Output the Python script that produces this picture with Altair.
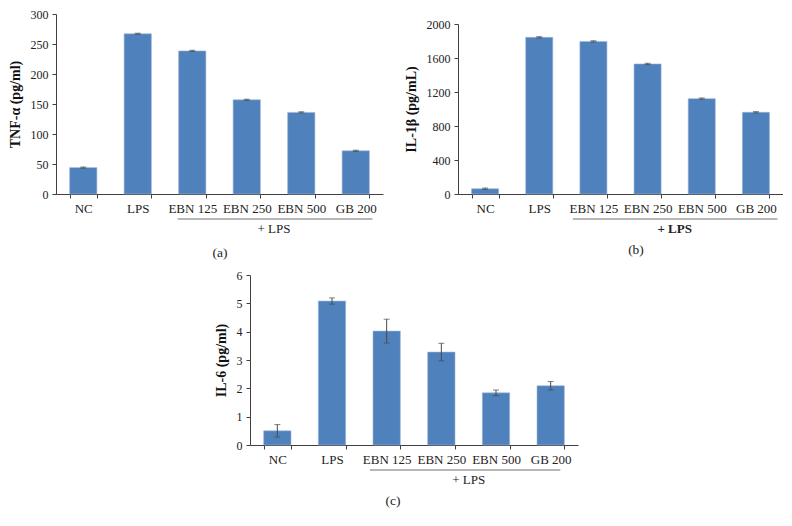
import altair as alt
import pandas as pd

categories = ["NC", "LPS", "EBN 125", "EBN 250", "EBN 500", "GB 200"]

tnf_values = [44, 267, 238.5, 157, 136, 72]
tnf_errors = [1, 1, 1, 1, 1, 1]
tnf_ticks = [0, 50, 100, 150, 200, 250, 300]

il1b_values = [62, 1843, 1795, 1530, 1122, 961]
il1b_errors = [8, 8, 8, 8, 8, 8]
il1b_ticks = [0, 400, 800, 1200, 1600, 2000]

il6_values = [0.50, 5.08, 4.02, 3.28, 1.84, 2.09]
il6_errors = [0.22, 0.11, 0.42, 0.31, 0.10, 0.15]
il6_ticks = [0, 1, 2, 3, 4, 5, 6]

FONT = "Liberation Serif"
BAR = "#4F81BD"
AXC = "#404040"


def panel(values, errors, ytitle, yticks, width, height, top_gap, caption,
          cap_x, cap_y, lps_bold, rule_off):
    df = pd.DataFrame({"cat": categories, "val": values, "err": errors})
    df["lo"] = df["val"] - df["err"]
    df["hi"] = df["val"] + df["err"]
    xscale = alt.Scale(domain=categories, paddingInner=0.5, paddingOuter=0.25)
    yscale = alt.Scale(domain=[yticks[0], yticks[-1]], range=[height, top_gap], nice=False)
    xaxis = alt.Axis(title=None, labelAngle=0, tickBand="extent", tickSize=4,
                     labelPadding=4, labelFont=FONT, labelFontSize=13,
                     labelColor="#222", domainColor=AXC, tickColor=AXC)
    yaxis = alt.Axis(title=ytitle, values=yticks, format="d", grid=False, tickSize=4,
                     labelPadding=4, labelFont=FONT, labelFontSize=12,
                     labelColor="#222", domainColor=AXC, tickColor=AXC,
                     titleFont=FONT, titleFontSize=14, titleFontWeight="bold",
                     titleColor="#111", titlePadding=8)
    base = alt.Chart(df)
    bars = base.mark_bar(color=BAR, stroke="#9db6d8", strokeWidth=0.6).encode(
        x=alt.X("cat:N", scale=xscale, sort=categories, axis=xaxis),
        y=alt.Y("val:Q", scale=yscale, axis=yaxis),
    )
    err_rule = base.mark_rule(color="#4a4a4a", strokeWidth=1).encode(
        x=alt.X("cat:N", axis=xaxis, sort=categories),
        y=alt.Y("lo:Q", axis=yaxis),
        y2="hi:Q",
    )
    cap_lo = base.mark_tick(color="#4a4a4a", size=6, thickness=1).encode(
        x=alt.X("cat:N", axis=xaxis, sort=categories), y=alt.Y("lo:Q", axis=yaxis))
    cap_hi = base.mark_tick(color="#4a4a4a", size=6, thickness=1).encode(
        x=alt.X("cat:N", axis=xaxis, sort=categories), y=alt.Y("hi:Q", axis=yaxis))

    ann = pd.DataFrame({"s": ["EBN 125"], "e": ["GB 200"], "m": ["EBN 250"],
                        "lab": ["+ LPS"], "cap": [caption]})
    achart = alt.Chart(ann)
    step = width / 6.0
    line = achart.mark_rule(color="#6e6e6e", strokeWidth=1,
                            xOffset=rule_off[0], x2Offset=rule_off[1]).encode(
        x=alt.X("s:N", bandPosition=0, axis=xaxis),
        x2=alt.X2("e", bandPosition=1),
        y=alt.value(height + 25),
    )
    lps = achart.mark_text(font=FONT, fontSize=13, color="#222",
                           fontWeight="bold" if lps_bold else "normal",
                           baseline="middle", xOffset=step / 4).encode(
        x=alt.X("m:N", bandPosition=1, axis=xaxis),
        y=alt.value(height + 35),
        text="lab:N",
    )
    cap = achart.mark_text(font=FONT, fontSize=13.5, color="#222", baseline="middle").encode(
        x=alt.value(cap_x), y=alt.value(cap_y), text="cap:N")
    guard = achart.mark_rule(opacity=0).encode(
        x=alt.value(0), x2=alt.value(1), y=alt.value(-10))
    return alt.layer(bars, err_rule, cap_lo, cap_hi, line, lps, cap, guard).properties(
        width=width, height=height)


pa = panel(tnf_values, tnf_errors, "TNF-α (pg/ml)", tnf_ticks, 327, 180, 0,
           "(a)", 164, 180 + 59, False, (-1, 3))
pb = panel(il1b_values, il1b_errors, "IL-1β (pg/mL)", il1b_ticks, 325, 180, 10,
           "(b)", 178, 180 + 56, True, (-7, 8))
pc = panel(il6_values, il6_errors, "IL-6 (pg/ml)", il6_ticks, 328, 170, 0,
           "(c)", 143, 170 + 56, False, (-3, -4))

spacer = alt.Chart(pd.DataFrame({"z": [0]})).mark_rule(opacity=0).encode(
    x=alt.value(0), x2=alt.value(158), y=alt.value(0)).properties(width=158, height=1)

top = alt.hconcat(pa, pb, spacing=21)
bottom = alt.hconcat(spacer, pc, spacing=0)
chart = alt.vconcat(top, bottom, spacing=5).configure_view(
    stroke=None).properties(padding={"left": 0, "top": -4, "right": 0, "bottom": 0})

chart.save("out.html", embed_options={"renderer": "svg", "actions": False})
